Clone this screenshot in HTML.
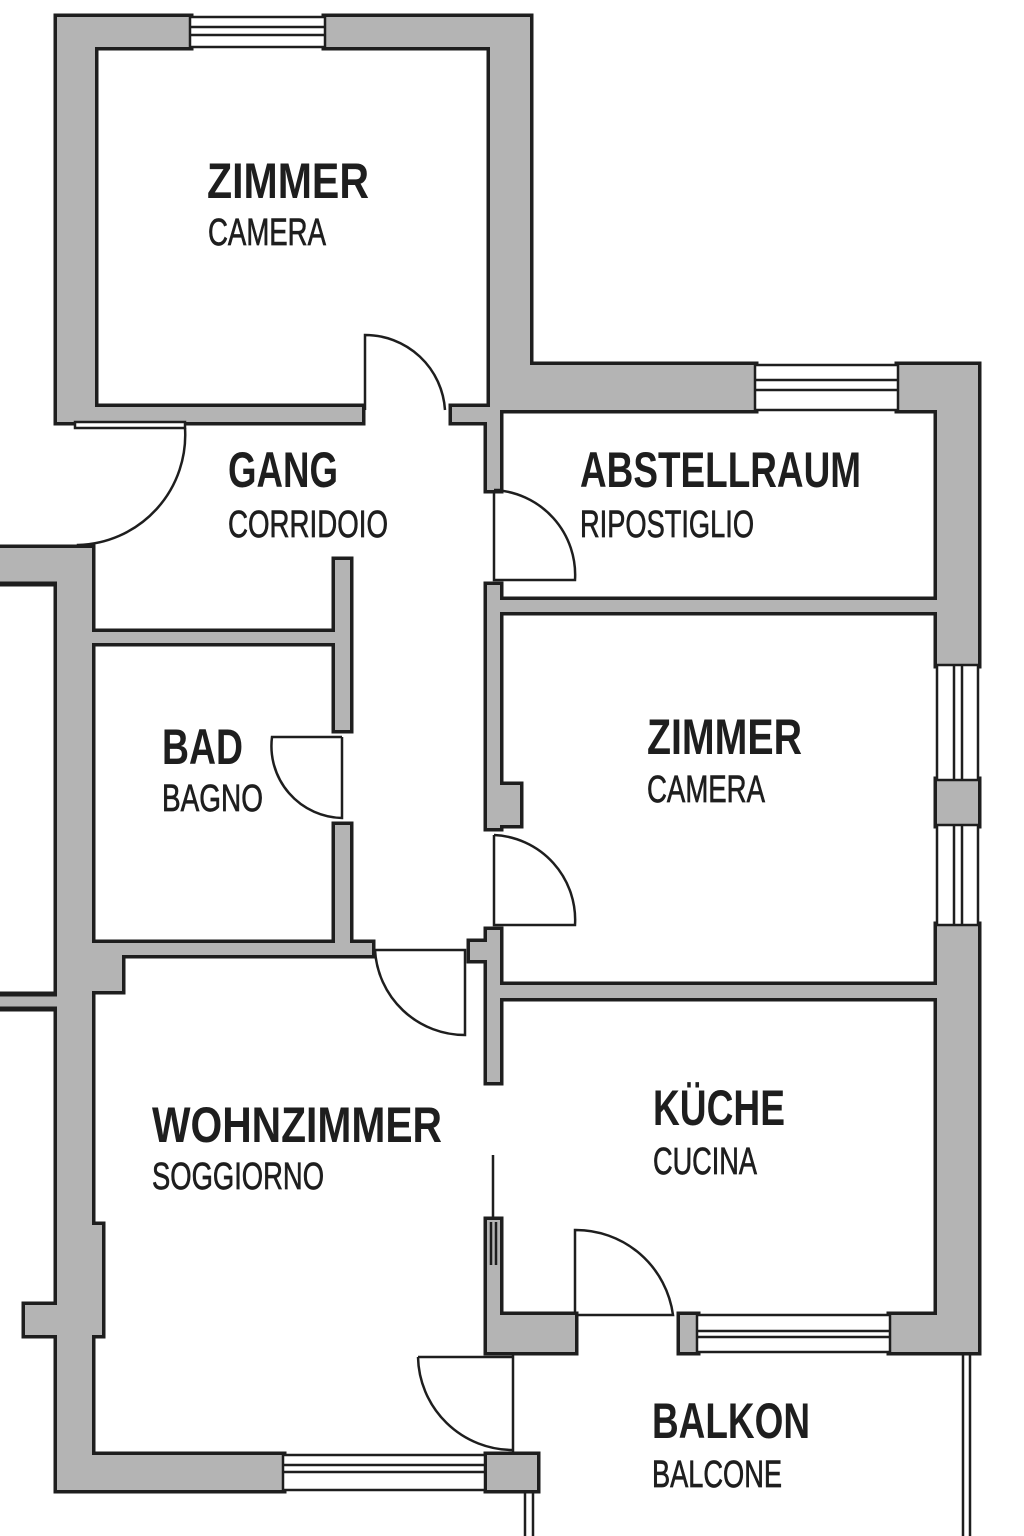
<!DOCTYPE html>
<html><head><meta charset="utf-8"><style>
html,body{margin:0;padding:0;background:#fff;width:1024px;height:1536px;overflow:hidden}
svg{display:block}
.t1{font-family:"Liberation Sans Narrow","Liberation Sans",sans-serif;font-weight:bold;font-size:50px;fill:#1e1e1e}
.t2{font-family:"Liberation Sans Narrow","Liberation Sans",sans-serif;font-size:38px;fill:#1e1e1e;stroke:#1e1e1e;stroke-width:0.7}
</style></head><body>
<svg width="1024" height="1536" viewBox="0 0 1024 1536" xmlns="http://www.w3.org/2000/svg">
<defs>
<g id="walls">
<rect x="57" y="17" width="133" height="30"/>
<rect x="325" y="17" width="205" height="30"/>
<rect x="57" y="17" width="38" height="405"/>
<rect x="490" y="17" width="40" height="393"/>
<rect x="57" y="407" width="305" height="15"/>
<rect x="452" y="407" width="48" height="15"/>
<rect x="487" y="407" width="13" height="83"/>
<rect x="490" y="365" width="265" height="45"/>
<rect x="898" y="365" width="80" height="45"/>
<rect x="937" y="365" width="41" height="300"/>
<rect x="487" y="600" width="450" height="12"/>
<rect x="487" y="585" width="13" height="243"/>
<rect x="487" y="785" width="33" height="40"/>
<rect x="937" y="780" width="41" height="45"/>
<rect x="937" y="925" width="41" height="427"/>
<rect x="487" y="930" width="13" height="152"/>
<rect x="470" y="942" width="20" height="18"/>
<rect x="487" y="985" width="450" height="13"/>
<rect x="487" y="1220" width="13" height="132"/>
<rect x="487" y="1315" width="88" height="37"/>
<rect x="680" y="1315" width="17" height="37"/>
<rect x="890" y="1315" width="88" height="37"/>
<rect x="0" y="548" width="92" height="35"/>
<rect x="57" y="548" width="35" height="942"/>
<rect x="0" y="995" width="57" height="13"/>
<rect x="25" y="1305" width="35" height="30"/>
<rect x="88" y="1225" width="14" height="110"/>
<rect x="92" y="632" width="250" height="11"/>
<rect x="335" y="560" width="15" height="170"/>
<rect x="335" y="825" width="15" height="120"/>
<rect x="92" y="943" width="280" height="12"/>
<rect x="92" y="943" width="30" height="48"/>
<rect x="57" y="1455" width="226" height="35"/>
<rect x="487" y="1455" width="50" height="35"/>
</g>
</defs>
<g fill="#1e1e1e" stroke="#1e1e1e" stroke-width="7"><use href="#walls"/></g>
<g fill="#b4b4b4"><use href="#walls"/></g>
<g fill="none" stroke="#1e1e1e" stroke-width="3">
<polyline points="0,583 57,583"/>
<polyline points="0,995 57,995"/>
<polyline points="0,1008 57,1008"/>
</g>
<g fill="#fff" stroke="#1e1e1e" stroke-width="2.5">
<rect x="190" y="17" width="135" height="30"/>
<line x1="190" y1="27" x2="325" y2="27"/><line x1="190" y1="35" x2="325" y2="35"/>
<rect x="755" y="365" width="143" height="45"/>
<line x1="755" y1="380" x2="898" y2="380"/><line x1="755" y1="390" x2="898" y2="390"/>
<rect x="937" y="665" width="41" height="115"/>
<line x1="954" y1="665" x2="954" y2="780"/><line x1="962" y1="665" x2="962" y2="780"/>
<rect x="937" y="825" width="41" height="100"/>
<line x1="954" y1="825" x2="954" y2="925"/><line x1="962" y1="825" x2="962" y2="925"/>
<rect x="697" y="1315" width="193" height="37"/>
<line x1="697" y1="1331" x2="890" y2="1331"/><line x1="697" y1="1337" x2="890" y2="1337"/>
<rect x="283" y="1455" width="202" height="35"/>
<line x1="283" y1="1465" x2="485" y2="1465"/><line x1="283" y1="1472" x2="485" y2="1472"/>
<rect x="75" y="422" width="110" height="6"/>
</g>
<g fill="none" stroke="#1e1e1e" stroke-width="2.5">
<path d="M365,410 V335 A80,80 0 0 1 445,410"/>
<path d="M185,428 A110,110 0 0 1 78,545 V548"/>
<path d="M494,490 H500 M494,490 V580 H575 A85,85 0 0 0 494,490"/>
<path d="M342,737 H272 A72,72 0 0 0 342,818 V737"/>
<path d="M494,835 V925 H575 A85,85 0 0 0 494,835"/>
<path d="M375,950 H465 V1035 A90,90 0 0 1 375,950"/>
<path d="M575,1315 V1230 A98,98 0 0 1 673,1315 H575"/>
<path d="M513,1352 V1455 M418,1357 H513 M418,1357 A95,95 0 0 0 513,1450"/>
<line x1="493" y1="1155" x2="493" y2="1220"/>
<line x1="491" y1="1222" x2="491" y2="1265"/><line x1="496" y1="1222" x2="496" y2="1265"/>
<line x1="963" y1="1352" x2="963" y2="1536"/><line x1="970" y1="1352" x2="970" y2="1536"/>
<line x1="525" y1="1490" x2="525" y2="1536"/><line x1="533" y1="1490" x2="533" y2="1536"/>
</g>
<text class="t1" x="207" y="198" textLength="162" lengthAdjust="spacingAndGlyphs">ZIMMER</text>
<text class="t2" x="208" y="245" textLength="118" lengthAdjust="spacingAndGlyphs">CAMERA</text>
<text class="t1" x="228" y="487" textLength="110" lengthAdjust="spacingAndGlyphs">GANG</text>
<text class="t2" x="228" y="537" textLength="160" lengthAdjust="spacingAndGlyphs">CORRIDOIO</text>
<text class="t1" x="580" y="487" textLength="281" lengthAdjust="spacingAndGlyphs">ABSTELLRAUM</text>
<text class="t2" x="580" y="537" textLength="174" lengthAdjust="spacingAndGlyphs">RIPOSTIGLIO</text>
<text class="t1" x="162" y="764" textLength="81" lengthAdjust="spacingAndGlyphs">BAD</text>
<text class="t2" x="162" y="811" textLength="101" lengthAdjust="spacingAndGlyphs">BAGNO</text>
<text class="t1" x="647" y="754" textLength="155" lengthAdjust="spacingAndGlyphs">ZIMMER</text>
<text class="t2" x="647" y="802" textLength="118" lengthAdjust="spacingAndGlyphs">CAMERA</text>
<text class="t1" x="152" y="1142" textLength="290" lengthAdjust="spacingAndGlyphs">WOHNZIMMER</text>
<text class="t2" x="152" y="1189" textLength="172" lengthAdjust="spacingAndGlyphs">SOGGIORNO</text>
<text class="t1" x="653" y="1125" textLength="132" lengthAdjust="spacingAndGlyphs">KÜCHE</text>
<text class="t2" x="653" y="1174" textLength="104" lengthAdjust="spacingAndGlyphs">CUCINA</text>
<text class="t1" x="652" y="1438" textLength="158" lengthAdjust="spacingAndGlyphs">BALKON</text>
<text class="t2" x="652" y="1487" textLength="130" lengthAdjust="spacingAndGlyphs">BALCONE</text>
</svg>
</body></html>
